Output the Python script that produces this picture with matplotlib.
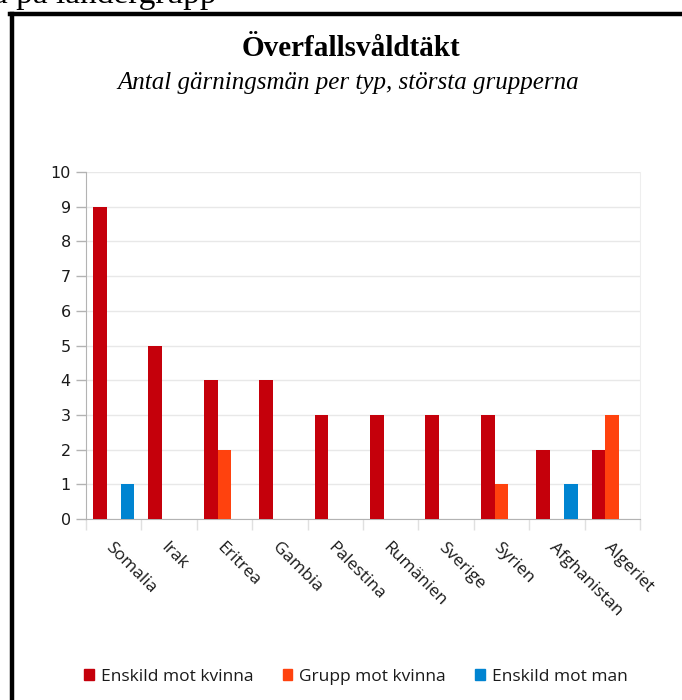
import matplotlib
matplotlib.use("Agg")
import matplotlib.pyplot as plt
import numpy as np
from matplotlib.lines import Line2D

countries = ["Somalia", "Irak", "Eritrea", "Gambia", "Palestina", "Rumänien",
             "Sverige", "Syrien", "Afghanistan", "Algeriet"]
enskild_kvinna = [9, 5, 4, 4, 3, 3, 3, 3, 2, 2]
grupp_kvinna = [0, 0, 2, 0, 0, 0, 0, 1, 0, 3]
enskild_man = [1, 0, 0, 0, 0, 0, 0, 0, 1, 0]
series_names = ["Enskild mot kvinna", "Grupp mot kvinna", "Enskild mot man"]
colors = ["#c5000b", "#ff420e", "#0084d1"]
yticks = list(range(0, 11))

fig = plt.figure(figsize=(6.82, 7.0), dpi=100)
ax = fig.add_axes([86/682, 1-519/700, (640-86)/682, (519-172)/700])

x = np.arange(len(countries))
w = 0.25
for k, (vals, c, name) in enumerate(zip([enskild_kvinna, grupp_kvinna, enskild_man], colors, series_names)):
    ax.bar(x + (k-1)*w, vals, width=w, color=c, label=name, zorder=3)

ax.set_xlim(-0.5, len(countries)-0.5)
ax.set_ylim(0, 10)
ax.set_yticks(yticks)
ax.set_yticklabels([str(t) for t in yticks], fontsize=11.5, color="#1a1a1a", family="DejaVu Sans")
ax.tick_params(axis="y", length=7, color="#b3b3b3", width=1, pad=4)
ax.yaxis.grid(True, color="#e8e8e8", linewidth=1, zorder=0)

ax.set_xticks(x)
ax.set_xticklabels([])
ax.tick_params(axis="x", which="major", length=0)
ax.set_xticks(np.arange(-0.5, len(countries)), minor=True)
ax.tick_params(axis="x", which="minor", length=8, color="#e0e0e0", width=1)

for i, name in enumerate(countries):
    ax.annotate(name, xy=(i, 0), xycoords=("data", "data"), xytext=(-4, -19),
                textcoords="offset points", rotation=-45, rotation_mode="anchor",
                ha="left", va="center", fontsize=12.5, family="Open Sans", color="#1a1a1a")

for side in ["left", "bottom"]:
    ax.spines[side].set_color("#b3b3b3")
ax.spines["right"].set_color("#eeeeee")
ax.spines["top"].set_visible(False)

fig.text(351/682, 1-48/700, "Överfallsvåldtäkt", ha="center", va="center",
         fontsize=21, fontweight="bold", family="Liberation Serif")
fig.text(348/682, 1-83/700, "Antal gärningsmän per typ, största grupperna", ha="center", va="center",
         fontsize=18, style="italic", family="Liberation Serif")

# cut-off heading above the frame (as in the reference)
fig.text(-0.01, 1-3/700, "a på ländergrupp", ha="left", va="baseline",
         fontsize=24, family="Liberation Serif", color="black")

handles = [plt.Rectangle((0, 0), 1, 1, color=c) for c in colors]
leg = fig.legend(handles, series_names, loc="center", bbox_to_anchor=(356/682, 1-677/700),
                 ncol=3, frameon=False, handlelength=0.55, handleheight=0.6,
                 handletextpad=0.4, columnspacing=1.7, prop={"family": "Open Sans", "size": 12.5})
for t in leg.get_texts():
    t.set_color("#1a1a1a")

# black frame (top and left edges)
fig.add_artist(Line2D([12/682, 12/682], [1-14/700, 0], transform=fig.transFigure, color="black", linewidth=3.2))
fig.add_artist(Line2D([10/682, 1], [1-14/700, 1-14/700], transform=fig.transFigure, color="black", linewidth=3.2))

fig.savefig("out.png", dpi=100)
